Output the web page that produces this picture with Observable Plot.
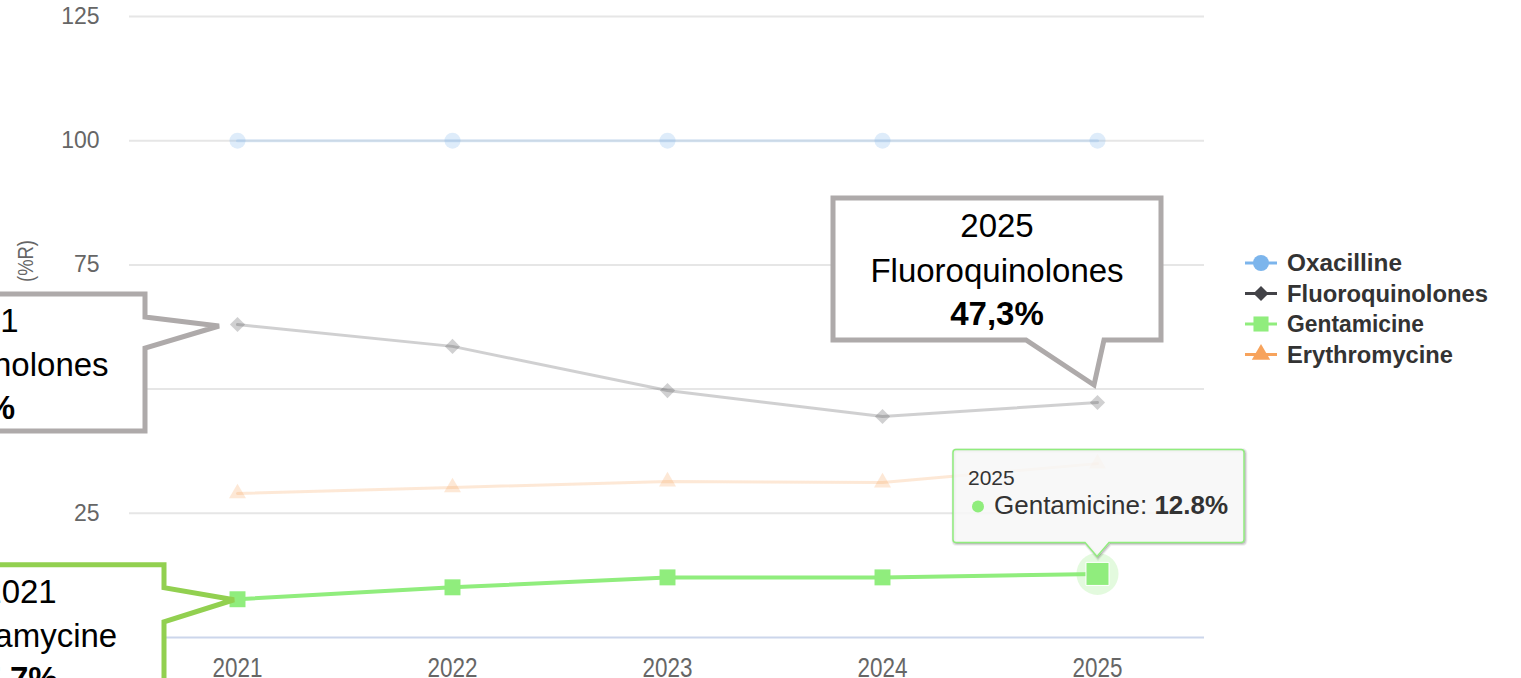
<!DOCTYPE html>
<html><head><meta charset="utf-8">
<script src="https://cdn.jsdelivr.net/npm/d3@7"></script>
<script src="https://cdn.jsdelivr.net/npm/@observablehq/plot@0.6"></script>
<style>
html,body{margin:0;padding:0;background:#fff;overflow:hidden}
#wrap{position:relative;width:1521px;height:678px;overflow:hidden}
#wrap svg{overflow:visible}
</style></head><body><div id="wrap"></div>
<script>
// ---- data ----
const years = [2021, 2022, 2023, 2024, 2025];
const seriesNames = ["Oxacilline", "Fluoroquinolones", "Gentamicine", "Erythromycine"];
const oxacilline = [100, 100, 100, 100, 100];
const fluoroquinolones = [63.0, 58.6, 49.7, 44.5, 47.3];
const gentamicine = [7.7, 10.1, 12.1, 12.1, 12.8];
const erythromycine = [29.0, 30.2, 31.4, 31.2, 35.0];
const yTicks = [0, 25, 50, 75, 100, 125];
const yTitle = "(%R)";
// callouts: label name, series, year
const calloutNames = ["Fluoroquinolones", "Fluoroquinolones", "Gentamycine"];
const calloutSeries = ["Fluoroquinolones", "Fluoroquinolones", "Gentamicine"];
const calloutYears = [2025, 2021, 2021];
const tooltipSeries = "Gentamicine";
const tooltipYear = 2025;

// ---- styles ----
const colors = {Oxacilline: "#7cb5ec", Fluoroquinolones: "#434348", Gentamicine: "#90ed7d", Erythromycine: "#f7a35c"};
const symbols = {Oxacilline: "circle", Fluoroquinolones: "diamond2", Gentamicine: "square", Erythromycine: "triangle"};
const symR = {Oxacilline: 8, Fluoroquinolones: 6.8, Gentamicine: 9, Erythromycine: 6.3};
const valuesBy = {Oxacilline: oxacilline, Fluoroquinolones: fluoroquinolones, Gentamicine: gentamicine, Erythromycine: erythromycine};

const rows = seriesNames.flatMap(s => years.map((yr, i) => ({series: s, year: yr, v: valuesBy[s][i]})));
const of = s => rows.filter(d => d.series === s);
const fmt = v => (Number.isInteger(v) ? String(v) : v.toFixed(1).replace(".", ",")) + "%";

const marks = [
  Plot.ruleY(yTicks.filter(d => d > 0), {stroke: "#e6e6e6", strokeWidth: 2}),
  Plot.ruleY([0], {stroke: "#ccd6eb", strokeWidth: 2}),
  Plot.axisY({ticks: yTicks, tickSize: 0, tickPadding: 30, fontSize: 23, fontFamily: "Liberation Sans", fill: "#666", label: null}),
  Plot.axisX({tickSize: 0, tickPadding: 20, fontSize: 27, fontFamily: "Liberation Sans", fill: "#666", label: null, tickFormat: d => String(d)})
];
for (const s of ["Oxacilline", "Fluoroquinolones", "Erythromycine"]) {
  marks.push(Plot.line(of(s), {x: "year", y: "v", stroke: colors[s], strokeOpacity: 0.25, strokeWidth: 3}));
  marks.push(Plot.dot(of(s), {x: "year", y: "v", symbol: symbols[s], r: symR[s], fill: colors[s], fillOpacity: 0.25, stroke: null}));
}
const g = "Gentamicine";
marks.push(Plot.line(of(g), {x: "year", y: "v", stroke: colors[g], strokeWidth: 4}));
marks.push(Plot.dot(of(g).filter(d => d.year !== tooltipYear), {x: "year", y: "v", symbol: "square", r: symR[g], fill: colors[g], stroke: null}));
marks.push(Plot.dot(of(g).filter(d => d.year === tooltipYear), {x: "year", y: "v", r: 21, fill: colors[g], fillOpacity: 0.25, stroke: null}));
marks.push(Plot.dot(of(g).filter(d => d.year === tooltipYear), {x: "year", y: "v", symbol: "square", r: 13, fill: colors[g], stroke: "#fff", strokeWidth: 1}));

const chart = Plot.plot({
  width: 1521, height: 678,
  marginLeft: 129, marginRight: 317, marginTop: 16, marginBottom: 41,
  style: {background: "transparent", overflow: "visible"},
  x: {type: "point", domain: years, padding: 0.5, label: null},
  y: {domain: [0, 125], label: null},
  marks
});
document.getElementById("wrap").appendChild(chart);

const sx = chart.scale("x"), sy = chart.scale("y");
const svg = d3.select(chart);
const valAt = (s, yr) => valuesBy[s][years.indexOf(yr)];

// condense the x tick labels
svg.selectAll("g[aria-label='x-axis tick label'] text")
  .attr("textLength", 50).attr("lengthAdjust", "spacingAndGlyphs");

// y axis title
svg.append("text").attr("transform", "translate(33,261) rotate(-90)")
  .attr("text-anchor", "middle").attr("font-family", "Liberation Sans")
  .attr("font-size", 22).attr("fill", "#666")
  .attr("textLength", 42).attr("lengthAdjust", "spacingAndGlyphs").text(yTitle);

// callouts layout (pixel offsets relative to the data point)
const calloutLayout = [
  {color: "#aeaaaa", L: -264, T: -204, R: 64, B: -62, ptr: [[64, -62], [7, -62], [-3, -17], [-71, -62]], side: "bottom", cx: -100, base: [-165, -120, -77]},
  {color: "#aeaaaa", L: -419, T: -30, R: -92, B: 107, ptr: [[-92, -7], [-18, 2], [-92, 24]], side: "right", cx: -255, base: [8, 52, 95]},
  {color: "#92d050", L: -361, T: -34, R: -73, B: 108, ptr: [[-73, -11], [-3, 1], [-73, 23]], side: "right", cx: -217, base: [4, 48, 91]}
];
calloutNames.forEach((name, i) => {
  const s = calloutSeries[i], yr = calloutYears[i], v = valAt(s, yr);
  const px = sx.apply(yr), py = sy.apply(v);
  const c = calloutLayout[i];
  let pts;
  if (c.side === "bottom") {
    pts = [[c.L, c.T], [c.R, c.T], [c.R, c.B], c.ptr[1], c.ptr[2], c.ptr[3], [c.L, c.B]];
  } else {
    pts = [[c.L, c.T], [c.R, c.T], c.ptr[0], c.ptr[1], c.ptr[2], [c.R, c.B], [c.L, c.B]];
  }
  const gg = svg.append("g").attr("transform", `translate(${px},${py})`);
  gg.append("path").attr("d", "M" + pts.map(p => p.join(",")).join("L") + "Z")
    .attr("fill", "#fff").attr("stroke", c.color).attr("stroke-width", 5).attr("stroke-linejoin", "miter");
  const lines = [String(yr), name, fmt(v)];
  lines.forEach((t, j) => {
    gg.append("text").attr("x", c.cx).attr("y", c.base[j]).attr("text-anchor", "middle")
      .attr("font-family", "Liberation Sans").attr("font-size", 33)
      .attr("font-weight", j === 2 ? "bold" : "normal").attr("fill", "#000").text(t);
  });
});

// legend
const legend = svg.append("g").attr("transform", "translate(1245,263)");
const symMap = {circle: d3.symbolCircle, diamond2: d3.symbolDiamond2, square: d3.symbolSquare, triangle: d3.symbolTriangle};
seriesNames.forEach((s, i) => {
  const row = legend.append("g").attr("transform", `translate(0,${i * 30.5})`);
  row.append("line").attr("x1", 0).attr("x2", 32).attr("stroke", colors[s]).attr("stroke-width", 3);
  const r = {Oxacilline: 8, Fluoroquinolones: 6.8, Gentamicine: 8.5, Erythromycine: 6.8}[s];
  row.append("path").attr("transform", "translate(16,0)")
    .attr("d", d3.symbol(symMap[symbols[s]], Math.PI * r * r)()).attr("fill", colors[s]);
  row.append("text").attr("x", 42).attr("y", 8).attr("text-anchor", "start").attr("font-family", "Liberation Sans")
    .attr("font-weight", "bold").attr("font-size", 23).attr("fill", "#333")
    .attr("textLength", {Oxacilline: 115, Fluoroquinolones: 201, Gentamicine: 137, Erythromycine: 166}[s])
    .attr("lengthAdjust", "spacingAndGlyphs").text(s);
});

// tooltip
{
  const v = valAt(tooltipSeries, tooltipYear);
  const px = sx.apply(tooltipYear), py = sy.apply(v);
  const L = -144, R = 147, T = -124, B = -31, r = 3, tip = -17;
  const d = `M${L + r},${T}H${R - r}Q${R},${T} ${R},${T + r}V${B - r}Q${R},${B} ${R - r},${B}H12L0,${tip}L-12,${B}H${L + r}Q${L},${B} ${L},${B - r}V${T + r}Q${L},${T} ${L + r},${T}Z`;
  const tg = svg.append("g").attr("transform", `translate(${px},${py})`);
  [[5, 0.05], [3, 0.1], [1, 0.15]].forEach(([w, o]) => {
    tg.append("path").attr("d", d).attr("transform", "translate(1,1)").attr("fill", "none")
      .attr("stroke", "#000").attr("stroke-opacity", o).attr("stroke-width", w);
  });
  tg.append("path").attr("d", d).attr("fill", "rgba(247,247,247,0.85)").attr("stroke", colors[tooltipSeries]).attr("stroke-width", 1.5);
  tg.append("text").attr("x", -129).attr("y", -88).attr("text-anchor", "start").attr("font-family", "Liberation Sans").attr("font-size", 21).attr("fill", "#333").text(String(tooltipYear));
  tg.append("circle").attr("cx", -119).attr("cy", -67).attr("r", 6).attr("fill", colors[tooltipSeries]);
  const t = tg.append("text").attr("x", -103).attr("y", -59).attr("text-anchor", "start").attr("font-family", "Liberation Sans").attr("font-size", 26).attr("fill", "#333");
  t.append("tspan").text(tooltipSeries + ": ");
  t.append("tspan").attr("font-weight", "bold").text(v.toFixed(1) + "%");
}
</script></body></html>
